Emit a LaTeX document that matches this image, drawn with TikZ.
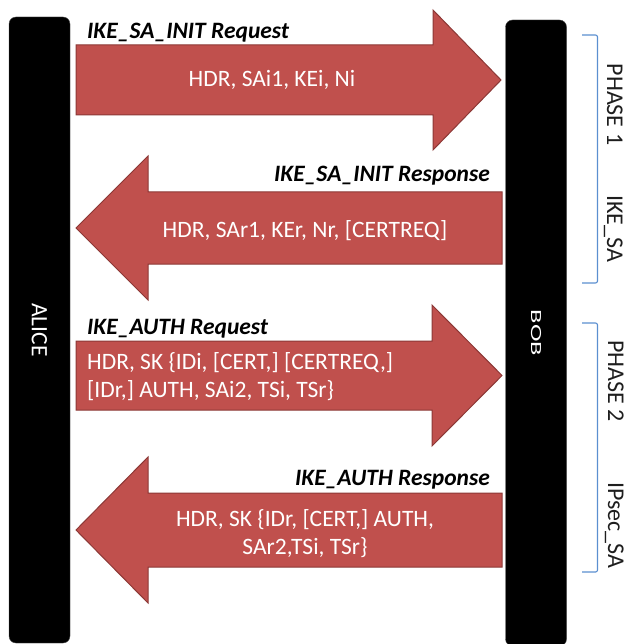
\documentclass[tikz,border=0pt]{standalone}
\usepackage{fontspec}
\setmainfont{Carlito}
\definecolor{arrowred}{HTML}{C0504D}
\definecolor{arrowedge}{HTML}{8C3836}
\definecolor{bracketblue}{HTML}{5B8FD0}
\definecolor{sidegray}{HTML}{1E1E1E}
\begin{document}
\begin{tikzpicture}[x=1pt,y=-1pt,
  lane/.style={fill=black, draw=black!70, line width=0.4pt, rounded corners=7pt,
    minimum height=61pt, minimum width=626pt, inner sep=0pt, rotate=-90,
    text=white, font=\fontsize{23.5}{28}\selectfont},
  msgarrow/.style={fill=arrowred, draw=arrowedge, line width=1pt, line join=miter},
  msglabel/.style={inner sep=0pt, font=\fontsize{23.5}{28}\selectfont\bfseries\itshape},
  msgtext/.style={inner sep=0pt, text=white, font=\fontsize{23.5}{28}\selectfont},
  phasebracket/.style={draw=bracketblue, line width=1.1pt, rounded corners=2pt},
  sidetext/.style={inner sep=0pt, rotate=-90, text=sidegray, font=\fontsize{24}{28}\selectfont}]
\useasboundingbox (0,0) rectangle (630,644);

% the two peers
\node[lane] (alice) at (39.5,330) {ALICE};
\node[lane] (bob) at (536,333) {\fontsize{15.5}{18}\selectfont\scalebox{1.7}[1]{BOB}};

% IKE_SA_INIT request, Alice to Bob
\draw[msgarrow] (76,45) -- (433,45) -- (433,10) -- (501,80) -- (433,150)
  -- (433,115) -- (76,115) -- cycle;
\node[msglabel, anchor=base west] (l1) at (87,39) {IKE\_SA\_INIT Request};
\node[msgtext, anchor=base] (m1) at (272,87) {HDR, SAi1, KEi, Ni};

% IKE_SA_INIT response, Bob to Alice
\draw[msgarrow] (502,192) -- (148,192) -- (148,156) -- (76,228) -- (148,300)
  -- (148,264) -- (502,264) -- cycle;
\node[msglabel, anchor=base east] (l2) at (490,182) {IKE\_SA\_INIT Response};
\node[msgtext, anchor=base] (m2) at (305,237) {HDR, SAr1, KEr, Nr, [CERTREQ]};

% IKE_AUTH request, Alice to Bob
\draw[msgarrow] (76,341) -- (432,341) -- (432,305) -- (502,375.5) -- (432,446)
  -- (432,410) -- (76,410) -- cycle;
\node[msglabel, anchor=base west] (l3) at (87,334) {IKE\_AUTH Request};
\node[msgtext, anchor=base west] (m3a) at (87,369) {HDR, SK \{IDi, [CERT,] [CERTREQ,]};
\node[msgtext, anchor=base west] (m3b) at (87,397) {[IDr,] AUTH, SAi2, TSi, TSr\}};

% IKE_AUTH response, Bob to Alice
\draw[msgarrow] (502,493) -- (148,493) -- (148,457) -- (76,530) -- (148,603)
  -- (148,567) -- (502,567) -- cycle;
\node[msglabel, anchor=base east] (l4) at (490,485) {IKE\_AUTH Response};
\node[msgtext, anchor=base] (m4a) at (305,526) {HDR, SK \{IDr, [CERT,] AUTH,};
\node[msgtext, anchor=base] (m4b) at (305,554) {SAr2,TSi, TSr\}};

% phase brackets
\draw[phasebracket] (582,35) -- (597.5,35) -- (597.5,283) -- (582,283);
\draw[phasebracket] (582,323) -- (597.5,323) -- (597.5,572) -- (582,572);
\node[sidetext, anchor=base] (p1) at (607,104.5) {PHASE 1};
\node[sidetext, anchor=base] (s1) at (607,228.5) {IKE\_SA};
\node[sidetext, anchor=base] (p2) at (608,381) {PHASE 2};
\node[sidetext, anchor=base] (s2) at (608,525.5) {IPsec\_SA};
\end{tikzpicture}
\end{document}
